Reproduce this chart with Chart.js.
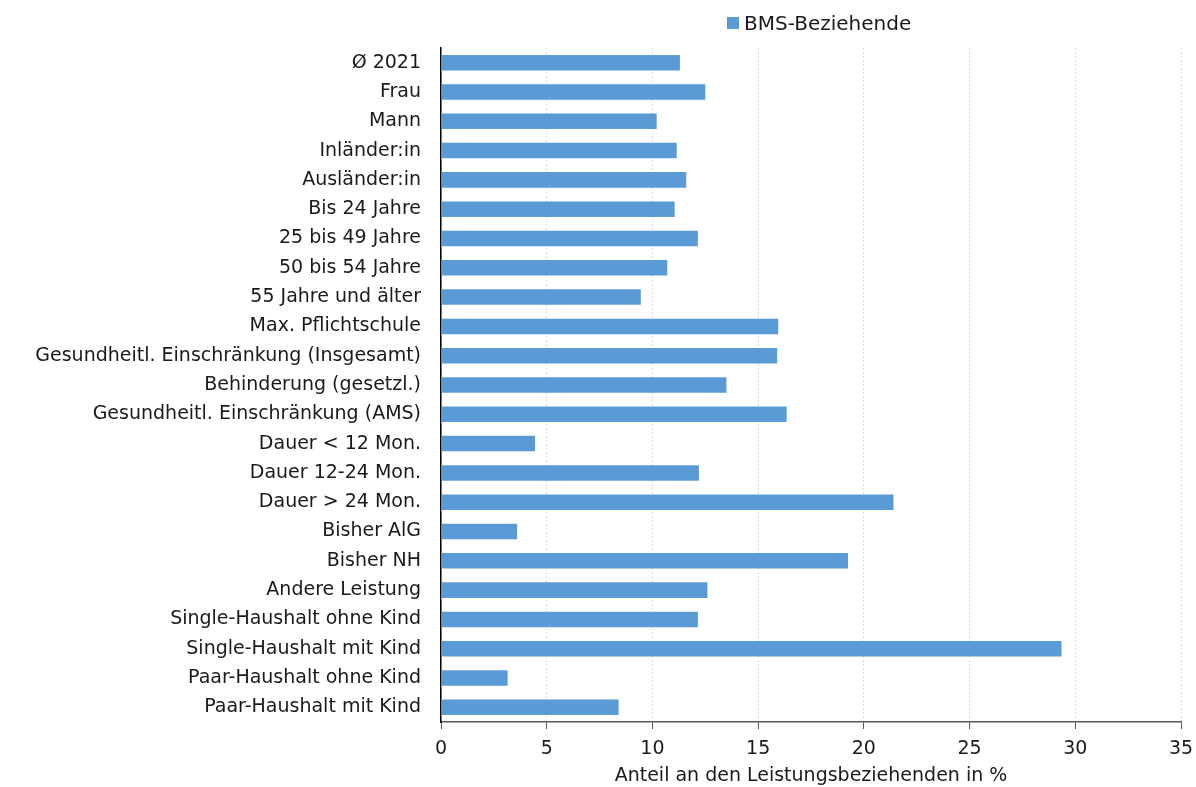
<!DOCTYPE html>
<html lang="de">
<head>
<meta charset="utf-8">
<title>BMS-Beziehende</title>
<script src="https://cdn.jsdelivr.net/npm/chart.js@4/dist/chart.umd.min.js"></script>
<style>
    html, body { margin: 0; padding: 0; background: #fff; }
    #wrap { position: relative; width: 1196px; height: 787px; }
    #legende {
        position: absolute; left: 727px; top: 11px;
        font: 20px "DejaVu Sans", sans-serif; color: #1a1a1a;
        display: flex; align-items: center;
    }
    #legende .box { width: 12px; height: 12px; background: #5B9BD5; margin-right: 5px; }
</style>
</head>
<body>
<div id="wrap">
    <canvas id="chart-bms" width="1196" height="787"></canvas>
    <div id="legende"><span class="box"></span><span>BMS-Beziehende</span></div>
</div>
<script>
// --- Données ---
const categories = [
    'Ø 2021', 'Frau', 'Mann', 'Inländer:in', 'Ausländer:in',
    'Bis 24 Jahre', '25 bis 49 Jahre', '50 bis 54 Jahre', '55 Jahre und älter',
    'Max. Pflichtschule', 'Gesundheitl. Einschränkung (Insgesamt)',
    'Behinderung (gesetzl.)', 'Gesundheitl. Einschränkung (AMS)',
    'Dauer < 12 Mon.', 'Dauer 12-24 Mon.', 'Dauer > 24 Mon.',
    'Bisher AlG', 'Bisher NH', 'Andere Leistung',
    'Single-Haushalt ohne Kind', 'Single-Haushalt mit Kind',
    'Paar-Haushalt ohne Kind', 'Paar-Haushalt mit Kind'
];
const bmsBeziehende = [
    11.3, 12.5, 10.2, 11.15, 11.6,
    11.05, 12.15, 10.7, 9.45,
    15.95, 15.9,
    13.5, 16.35,
    4.45, 12.2, 21.4,
    3.6, 19.25, 12.6,
    12.15, 29.35,
    3.15, 8.4
];
const xTicks = [0, 5, 10, 15, 20, 25, 30, 35];

const police = '"DejaVu Sans", sans-serif';
const texte = '#1a1a1a';

new Chart(document.getElementById('chart-bms').getContext('2d'), {
    type: 'bar',
    data: {
        labels: categories,
        datasets: [{
            label: 'BMS-Beziehende',
            data: bmsBeziehende,
            backgroundColor: '#5B9BD5',
            borderWidth: 0,
            categoryPercentage: 1,
            barPercentage: 0.53
        }]
    },
    options: {
        indexAxis: 'y',
        responsive: false,
        animation: false,
        layout: { padding: { top: 48, right: 15, bottom: 0, left: 0 } },
        plugins: { legend: { display: false }, tooltip: { enabled: false } },
        scales: {
            x: {
                min: 0, max: 35,
                afterBuildTicks: (axe) => { axe.ticks = xTicks.map(v => ({ value: v })); },
                grid: {
                    color: '#dcdcdc',
                    tickColor: '#595959',
                    tickLength: 7,
                    tickBorderDash: []
                },
                border: { color: '#595959', width: 1.5, dash: [2, 2] },
                ticks: { color: texte, font: { family: police, size: 19 }, padding: 9 },
                title: {
                    display: true,
                    text: 'Anteil an den Leistungsbeziehenden in %',
                    color: texte,
                    font: { family: police, size: 19 },
                    padding: { top: 0, bottom: 0 }
                },
                // hauteur fixe de l'axe, et le "35" peut déborder dans la marge droite
                afterFit: (axe) => { axe.height = 65; axe.paddingRight = 0; }
            },
            y: {
                grid: { display: false },
                border: { color: '#000', width: 1.5 },
                ticks: { color: texte, font: { family: police, size: 19 }, padding: 12, autoSkip: false },
                afterFit: (axe) => { axe.width = 441; }
            }
        }
    }
});
</script>
</body>
</html>
